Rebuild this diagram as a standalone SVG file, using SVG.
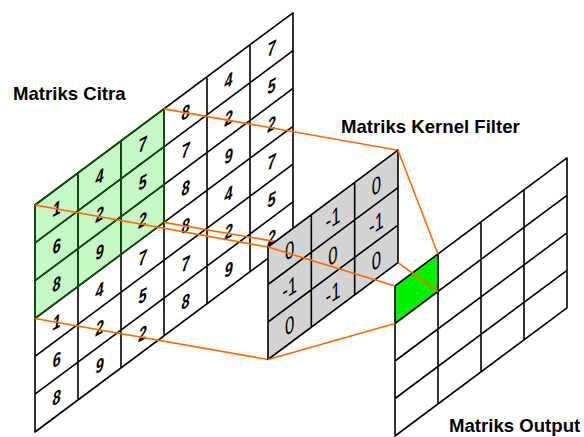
<svg xmlns="http://www.w3.org/2000/svg" width="584" height="437" viewBox="0 0 584 437">
<style>
.grid{fill:none;stroke:#000;stroke-width:1.6;vector-effect:non-scaling-stroke;stroke-linejoin:round}
.ggrid{fill:none;stroke:#0e4f0e;stroke-width:1.6;vector-effect:non-scaling-stroke}
.orange{fill:none;stroke:#ff6a00;stroke-width:1.6}
.label{font-family:"Liberation Sans",Arial,sans-serif;font-weight:bold;font-size:18.6px;fill:#000}
.dimg{font-family:"Liberation Sans",Arial,sans-serif;font-weight:bold;font-style:italic;font-size:19px;fill:#000;text-anchor:middle}
.dker{font-family:"Liberation Sans",Arial,sans-serif;font-size:24px;fill:#000;text-anchor:middle}
</style>
<rect width="584" height="437" fill="#fff"/>

<g id="matriks-citra" transform="matrix(1,-0.745,0,1,35,205)">
  <rect x="0" y="0" width="258" height="227" fill="#fff"/>
  <rect x="0" y="0" width="129" height="113.5" fill="#c6f7c6"/>
  <path class="grid" d="M0 0H258V227H0Z M43 0V227 M86 0V227 M129 0V227 M172 0V227 M215 0V227 M0 37.83H258 M0 75.67H258 M0 113.5H258 M0 151.33H258 M0 189.17H258"/>
  <path class="ggrid" d="M0 0H129V113.5H0Z M43 0V113.5 M86 0V113.5 M0 37.83H129 M0 75.67H129"/>
  <g transform="translate(21.5,26)">
    <g transform="translate(0,0) skewY(12) scale(0.78,1)"><text class="dimg">1</text></g>
    <g transform="translate(0,37.83) skewY(12) scale(0.78,1)"><text class="dimg">6</text></g>
    <g transform="translate(0,75.67) skewY(12) scale(0.78,1)"><text class="dimg">8</text></g>
    <g transform="translate(0,113.5) skewY(12) scale(0.78,1)"><text class="dimg">1</text></g>
    <g transform="translate(0,151.33) skewY(12) scale(0.78,1)"><text class="dimg">6</text></g>
    <g transform="translate(0,189.17) skewY(12) scale(0.78,1)"><text class="dimg">8</text></g>
    <g transform="translate(43,0) skewY(12) scale(0.78,1)"><text class="dimg">4</text></g>
    <g transform="translate(43,37.83) skewY(12) scale(0.78,1)"><text class="dimg">2</text></g>
    <g transform="translate(43,75.67) skewY(12) scale(0.78,1)"><text class="dimg">9</text></g>
    <g transform="translate(43,113.5) skewY(12) scale(0.78,1)"><text class="dimg">4</text></g>
    <g transform="translate(43,151.33) skewY(12) scale(0.78,1)"><text class="dimg">2</text></g>
    <g transform="translate(43,189.17) skewY(12) scale(0.78,1)"><text class="dimg">9</text></g>
    <g transform="translate(86,0) skewY(12) scale(0.78,1)"><text class="dimg">7</text></g>
    <g transform="translate(86,37.83) skewY(12) scale(0.78,1)"><text class="dimg">5</text></g>
    <g transform="translate(86,75.67) skewY(12) scale(0.78,1)"><text class="dimg">2</text></g>
    <g transform="translate(86,113.5) skewY(12) scale(0.78,1)"><text class="dimg">7</text></g>
    <g transform="translate(86,151.33) skewY(12) scale(0.78,1)"><text class="dimg">5</text></g>
    <g transform="translate(86,189.17) skewY(12) scale(0.78,1)"><text class="dimg">2</text></g>
    <g transform="translate(129,0) skewY(12) scale(0.78,1)"><text class="dimg">8</text></g>
    <g transform="translate(129,37.83) skewY(12) scale(0.78,1)"><text class="dimg">7</text></g>
    <g transform="translate(129,75.67) skewY(12) scale(0.78,1)"><text class="dimg">8</text></g>
    <g transform="translate(129,113.5) skewY(12) scale(0.78,1)"><text class="dimg">8</text></g>
    <g transform="translate(129,151.33) skewY(12) scale(0.78,1)"><text class="dimg">7</text></g>
    <g transform="translate(129,189.17) skewY(12) scale(0.78,1)"><text class="dimg">8</text></g>
    <g transform="translate(172,0) skewY(12) scale(0.78,1)"><text class="dimg">4</text></g>
    <g transform="translate(172,37.83) skewY(12) scale(0.78,1)"><text class="dimg">2</text></g>
    <g transform="translate(172,75.67) skewY(12) scale(0.78,1)"><text class="dimg">9</text></g>
    <g transform="translate(172,113.5) skewY(12) scale(0.78,1)"><text class="dimg">4</text></g>
    <g transform="translate(172,151.33) skewY(12) scale(0.78,1)"><text class="dimg">2</text></g>
    <g transform="translate(172,189.17) skewY(12) scale(0.78,1)"><text class="dimg">9</text></g>
    <g transform="translate(215,0) skewY(12) scale(0.78,1)"><text class="dimg">7</text></g>
    <g transform="translate(215,37.83) skewY(12) scale(0.78,1)"><text class="dimg">5</text></g>
    <g transform="translate(215,75.67) skewY(12) scale(0.78,1)"><text class="dimg">2</text></g>
    <g transform="translate(215,113.5) skewY(12) scale(0.78,1)"><text class="dimg">7</text></g>
    <g transform="translate(215,151.33) skewY(12) scale(0.78,1)"><text class="dimg">5</text></g>
    <g transform="translate(215,189.17) skewY(12) scale(0.78,1)"><text class="dimg">2</text></g>
  </g>
</g>
<text class="label" x="13" y="100">Matriks Citra</text>

<g id="connectors-citra">
  <line class="orange" x1="35" y1="205" x2="268" y2="247"/>
  <line class="orange" x1="164" y1="108.9" x2="398" y2="150.2"/>
  <line class="orange" x1="35" y1="318.5" x2="268" y2="359.5"/>
  <line class="orange" x1="164" y1="222.4" x2="398" y2="262.6"/>
</g>

<g id="matriks-kernel" transform="matrix(1,-0.745,0,1,268,247)">
  <rect x="0" y="0" width="130" height="112.5" fill="#d3d3d3"/>
  <path class="grid" d="M0 0H130V112.5H0Z M43.33 0V112.5 M86.67 0V112.5 M0 37.5H130 M0 75H130"/>
  <g transform="translate(21.7,27.5)">
    <g transform="translate(0,0) skewY(8) scale(0.7,1)"><text class="dker">0</text></g>
    <g transform="translate(0,37.5) skewY(8) scale(0.7,1)"><text class="dker">-1</text></g>
    <g transform="translate(0,75) skewY(8) scale(0.7,1)"><text class="dker">0</text></g>
    <g transform="translate(43.33,0) skewY(8) scale(0.7,1)"><text class="dker">-1</text></g>
    <g transform="translate(43.33,37.5) skewY(8) scale(0.7,1)"><text class="dker">0</text></g>
    <g transform="translate(43.33,75) skewY(8) scale(0.7,1)"><text class="dker">-1</text></g>
    <g transform="translate(86.67,0) skewY(8) scale(0.7,1)"><text class="dker">0</text></g>
    <g transform="translate(86.67,37.5) skewY(8) scale(0.7,1)"><text class="dker">-1</text></g>
    <g transform="translate(86.67,75) skewY(8) scale(0.7,1)"><text class="dker">0</text></g>
  </g>
</g>
<text class="label" x="341" y="133">Matriks Kernel Filter</text>

<g id="matriks-output" transform="matrix(1,-0.745,0,1,395,286)">
  <rect x="0" y="0" width="172" height="150" fill="#fff"/>
  <rect x="0" y="0" width="43" height="37.5" fill="#00f000"/>
  <path class="grid" d="M0 0H172V150H0Z M43 0V150 M86 0V150 M129 0V150 M0 37.5H172 M0 75H172 M0 112.5H172"/>
</g>
<text class="label" x="449" y="432">Matriks Output</text>

<g id="connectors-output">
  <line class="orange" x1="268" y1="247" x2="395" y2="286"/>
  <line class="orange" x1="398" y1="150.2" x2="438" y2="254"/>
  <line class="orange" x1="268" y1="359.5" x2="395" y2="323.5"/>
  <line class="orange" x1="398" y1="262.6" x2="438" y2="291.5"/>
</g>
</svg>
